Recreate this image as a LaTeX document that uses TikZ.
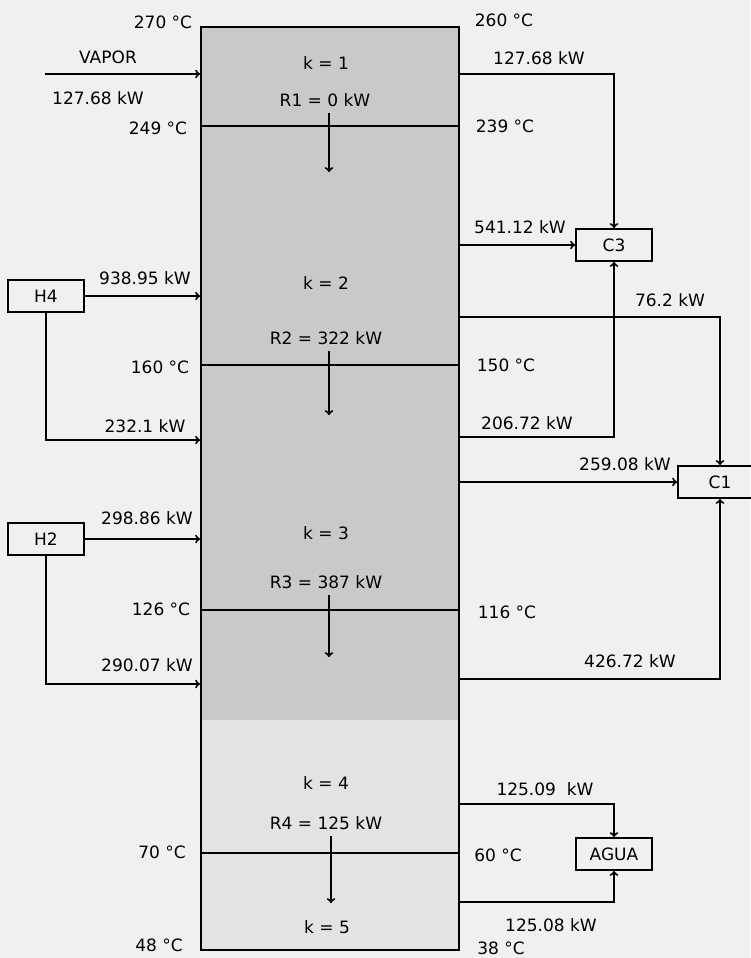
\documentclass[tikz,border=0pt]{standalone}
\usepackage{fontspec}
\setmainfont{DejaVu Sans}
\usetikzlibrary{positioning,arrows,calc}
\tikzset{
  flow/.style={line width=2pt, draw=black, ->, >=to},
  level/.style={line width=2pt, draw=black},
  unit/.style={draw=black, line width=2pt, minimum width=76pt, minimum height=32pt, inner sep=0pt},
  lbl/.style={inner sep=0pt}
}

\begin{document}
\begin{tikzpicture}[x=1pt, y=-1pt, font=\fontsize{17}{20}\selectfont]
    \useasboundingbox (0,0) rectangle (750,958);
    \fill[black!6] (0,0) rectangle (750,958);
    \fill[black!21] (200,26) rectangle (458,720);
    \fill[black!11] (200,720) rectangle (458,949);
    \node[draw=black, line width=2pt, minimum width=258pt, minimum height=923pt, inner sep=0pt, anchor=north west] (col) at (200,26) {};

    \foreach \y in {126,365,610,853}
      \draw[level] (200,\y) -- (458,\y);

    % boxes
    \node[unit] (H4) at (46,296) {H4};
    \node[unit] (H2) at (46,539) {H2};
    \node[unit] (C3) at (614,245) {C3};
    \node[unit, minimum width=84pt] (C1) at (720,482) {C1};
    \node[unit] (agua) at (614,854) {AGUA};

    % column edges
    \coordinate (vap) at (45,74);
    \coordinate (w1) at (200,74);
    \coordinate (w2) at (200,296);
    \coordinate (w3) at (200,440);
    \coordinate (w4) at (200,539);
    \coordinate (w5) at (200,684);
    \coordinate (e1) at (458,74);
    \coordinate (e2) at (458,245);
    \coordinate (e3) at (458,317);
    \coordinate (e4) at (458,437);
    \coordinate (e5) at (458,482);
    \coordinate (e6) at (458,679);
    \coordinate (e7) at (458,804);
    \coordinate (e8) at (458,902);

    \draw[flow] (vap) -- (w1);
    \draw[flow] (H4.east) -- (w2);
    \draw[flow] (H4.south) |- (w3);
    \draw[flow] (H2.east) -- (w4);
    \draw[flow] (H2.south) |- (w5);

    \draw[flow] (e1) -| (C3.north);
    \draw[flow] (e2) -- (C3.west);
    \draw[flow] (e4) -| (C3.south);
    \draw[flow] (e3) -| (C1.north);
    \draw[flow] (e5) -- (C1.west);
    \draw[flow] (e6) -| (C1.south);
    \draw[flow] (e7) -| (agua.north);
    \draw[flow] (e8) -| (agua.south);

    % inside the column
    \node[lbl] (k1) at (326,63) {k = 1};
    \node[lbl] (R1) at (325,100) {R1 = 0 kW};
    \node[lbl] (k2) at (326,283) {k = 2};
    \node[lbl] (R2) at (326,338) {R2 = 322 kW};
    \node[lbl] (k3) at (326,533) {k = 3};
    \node[lbl] (R3) at (326,582) {R3 = 387 kW};
    \node[lbl] (k4) at (326,783) {k = 4};
    \node[lbl] (R4) at (326,823) {R4 = 125 kW};
    \node[lbl] (k5) at (327,927) {k = 5};

    \coordinate (d1) at (329,172);
    \coordinate (d2) at (329,415);
    \coordinate (d3) at (329,657);
    \coordinate (d4) at (331,903);
    \draw[flow, shorten <=6pt] (R1.south -| d1) -- (d1);
    \draw[flow, shorten <=6pt] (R2.south -| d2) -- (d2);
    \draw[flow, shorten <=6pt] (R3.south -| d3) -- (d3);
    \draw[flow, shorten <=6pt] (R4.south -| d4) -- (d4);

    % left labels
    \node[lbl] (t270) at (163,22) {270 °C};
    \node[lbl] (vapor) at (108,57) {VAPOR};
    \node[lbl] (qv) at (98,98) {127.68 kW};
    \node[lbl] (t249) at (158,128) {249 °C};
    \node[lbl] (q938) at (145,278) {938.95 kW};
    \node[lbl] (t160) at (160,367) {160 °C};
    \node[lbl] (q232) at (145,426) {232.1 kW};
    \node[lbl] (q298) at (147,518) {298.86 kW};
    \node[lbl] (t126) at (161,609) {126 °C};
    \node[lbl] (q290) at (147,665) {290.07 kW};
    \node[lbl] (t70) at (162,852) {70 °C};
    \node[lbl] (t48) at (159,945) {48 °C};

    % right labels
    \node[lbl] (t260) at (504,20) {260 °C};
    \node[lbl] (q127) at (539,58) {127.68 kW};
    \node[lbl] (t239) at (505,126) {239 °C};
    \node[lbl] (q541) at (520,227) {541.12 kW};
    \node[lbl] (q76) at (670,300) {76.2 kW};
    \node[lbl] (t150) at (506,365) {150 °C};
    \node[lbl] (q206) at (527,423) {206.72 kW};
    \node[lbl] (q259) at (625,464) {259.08 kW};
    \node[lbl] (t116) at (507,612) {116 °C};
    \node[lbl] (q426) at (630,661) {426.72 kW};
    \node[lbl] (q125a) at (545,789) {125.09~~kW};
    \node[lbl] (t60) at (498,855) {60 °C};
    \node[lbl] (q125b) at (551,925) {125.08 kW};
    \node[lbl] (t38) at (501,948) {38 °C};
\end{tikzpicture}
\end{document}
